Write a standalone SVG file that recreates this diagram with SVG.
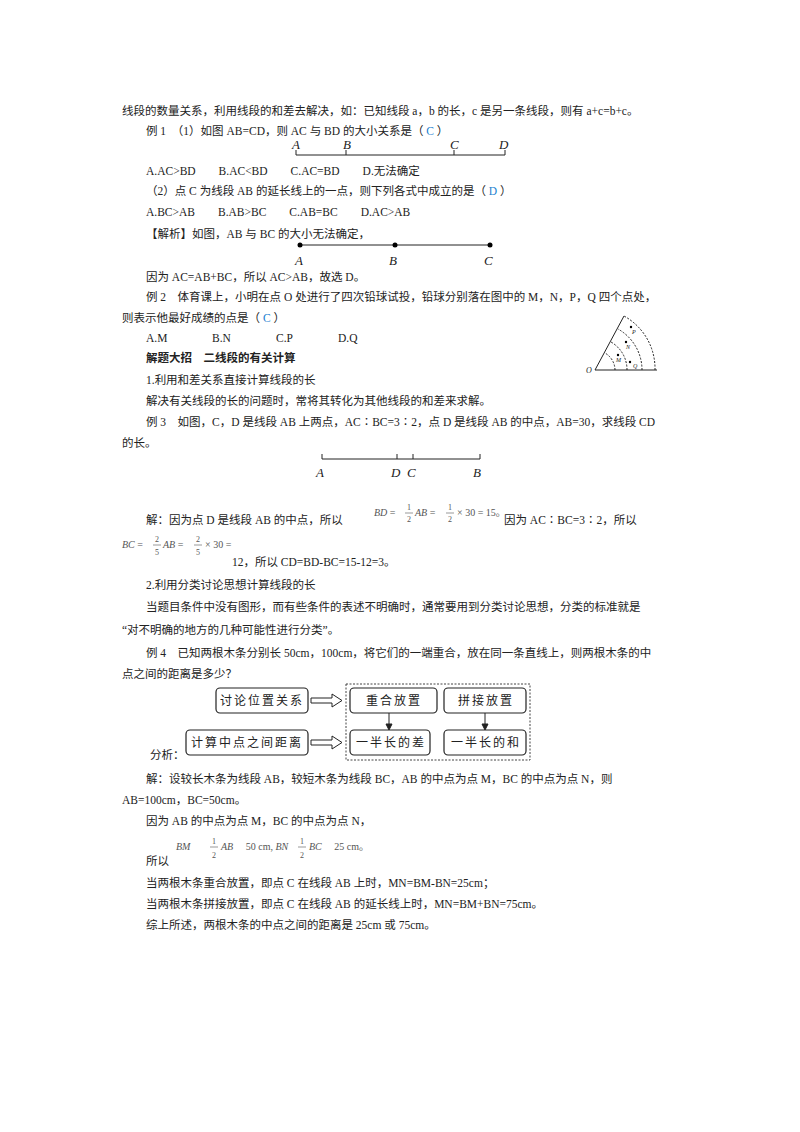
<svg xmlns="http://www.w3.org/2000/svg" width="800" height="1132" viewBox="0 0 800 1132">
<style>
text{font-family:"Liberation Serif","Noto Sans CJK SC",serif;font-size:11.5px;fill:#222}
.i{font-style:italic;font-size:13px}
.f{font-size:10px;fill:#555}
.s{font-size:8px;fill:#555}
.b{font-weight:bold}
.bl{fill:#1a7fd0}
.ln{stroke:#222;stroke-width:1;fill:none}
.bx{fill:#fff;stroke:#222;stroke-width:1.2}
.fc{font-size:12px;text-anchor:middle;letter-spacing:2px}
</style>
<rect width="800" height="1132" fill="#fff"/>
<text x="122" y="115">线段的数量关系，利用线段的和差去解决，如：已知线段 a，b 的长，c 是另一条线段，则有 a+c=b+c。</text>
<text x="146" y="135">例 1　（1）如图 AB=CD，则 AC 与 BD 的大小关系是（ <tspan class="bl">C</tspan> ）</text>
<g id="fig1">
<path class="ln" d="M296 150v5h209v-5M346 150v5M454 150v5"/>
<text class="i" x="292" y="149">A</text><text class="i" x="343" y="149">B</text><text class="i" x="450" y="149">C</text><text class="i" x="499" y="149">D</text>
</g>
<text x="146" y="175">A.AC&gt;BD　　B.AC&lt;BD　　C.AC=BD　　D.无法确定</text>
<text x="146" y="195">（2）点 C 为线段 AB 的延长线上的一点，则下列各式中成立的是（ <tspan class="bl">D</tspan> ）</text>
<text x="146" y="216">A.BC&gt;AB　　B.AB&gt;BC　　C.AB=BC　　D.AC&gt;AB</text>
<text x="146" y="238">【解析】如图，AB 与 BC 的大小无法确定，</text>
<g id="fig2">
<line class="ln" x1="300" y1="245" x2="490" y2="245" stroke-width="1.5"/>
<circle cx="300" cy="245" r="2.5"/><circle cx="395" cy="245" r="2.5"/><circle cx="490" cy="245" r="2.5"/>
<text class="i" x="295" y="265" font-size="14">A</text><text class="i" x="389" y="265" font-size="14">B</text><text class="i" x="484" y="265" font-size="14">C</text>
</g>
<text x="146" y="281">因为 AC=AB+BC，所以 AC&gt;AB，故选 D。</text>
<text x="146" y="301">例 2　体育课上，小明在点 O 处进行了四次铅球试投，铅球分别落在图中的 M，N，P，Q 四个点处，</text>
<text x="122" y="322">则表示他最好成绩的点是（ <tspan class="bl">C</tspan> ）</text>
<text x="146" y="342">A.M</text><text x="212" y="342">B.N</text><text x="276" y="342">C.P</text><text x="338" y="342">D.Q</text>
<g id="fan">
<path class="ln" d="M595 370L624 316M595 370H657" stroke-width="0.8"/>
<path class="ln" stroke-dasharray="2 1.5" stroke-width="0.7" d="M615 370A20 20 0 0 0 605 353M627 370A32 32 0 0 0 611 342M642 370A47 47 0 0 0 618 329M655 370A60 60 0 0 0 624 316"/>
<circle cx="618" cy="355" r="1.2"/><circle cx="626" cy="342" r="1.2"/><circle cx="631" cy="327" r="1.2"/><circle cx="630" cy="362" r="1.2"/>
<text style="font-style:italic;font-size:6px" x="616" y="362">M</text><text style="font-style:italic;font-size:6px" x="626" y="349">N</text><text style="font-style:italic;font-size:6px" x="632" y="334">P</text><text style="font-style:italic;font-size:6px" x="633" y="368">Q</text>
<text style="font-style:italic;font-size:8px" x="586" y="373">O</text>
</g>
<text class="b" x="146" y="362">解题大招　二线段的有关计算</text>
<text x="146" y="384">1.利用和差关系直接计算线段的长</text>
<text x="146" y="405">解决有关线段的长的问题时，常将其转化为其他线段的和差来求解。</text>
<text x="146" y="426">例 3　如图，C，D 是线段 AB 上两点，AC∶BC=3∶2，点 D 是线段 AB 的中点，AB=30，求线段 CD</text>
<text x="122" y="447">的长。</text>
<g id="fig3">
<path class="ln" d="M322 454v5h158v-5M397 454v5M413 454v5"/>
<text class="i" x="316" y="477" font-size="14">A</text><text class="i" x="391" y="477" font-size="14">D</text><text class="i" x="407" y="477" font-size="14">C</text><text class="i" x="473" y="477" font-size="14">B</text>
</g>
<text x="146" y="524">解：因为点 D 是线段 AB 的中点，所以</text>
<text class="f" x="374" y="516"><tspan font-style="italic">BD</tspan> =</text><text class="s" x="407" y="510">1</text><line x1="405" y1="513" x2="413" y2="513" stroke="#555" stroke-width="0.6"/><text class="s" x="407" y="522">2</text>
<text class="f" x="415" y="516"><tspan font-style="italic">AB</tspan> =</text><text class="s" x="448" y="510">1</text><line x1="446" y1="513" x2="454" y2="513" stroke="#555" stroke-width="0.6"/><text class="s" x="448" y="522">2</text>
<text class="f" x="457" y="516">× 30 = 15。</text>
<text x="504" y="524">因为 AC∶BC=3∶2，所以</text>
<text class="f" x="122" y="548"><tspan font-style="italic">BC</tspan> =</text><text class="s" x="155" y="542">2</text><line x1="153" y1="545" x2="161" y2="545" stroke="#555" stroke-width="0.6"/><text class="s" x="155" y="555">5</text>
<text class="f" x="163" y="548"><tspan font-style="italic">AB</tspan> =</text><text class="s" x="196" y="542">2</text><line x1="194" y1="545" x2="202" y2="545" stroke="#555" stroke-width="0.6"/><text class="s" x="196" y="555">5</text>
<text class="f" x="205" y="548">× 30 =</text>
<text x="232" y="566">12，所以 CD=BD-BC=15-12=3。</text>
<text x="146" y="589">2.利用分类讨论思想计算线段的长</text>
<text x="146" y="611">当题目条件中没有图形，而有些条件的表述不明确时，通常要用到分类讨论思想，分类的标准就是</text>
<text x="122" y="634">“对不明确的地方的几种可能性进行分类”。</text>
<text x="146" y="657">例 4　已知两根木条分别长 50cm，100cm，将它们的一端重合，放在同一条直线上，则两根木条的中</text>
<text x="122" y="678">点之间的距离是多少？</text>
<g id="flow">
<rect x="346" y="684" width="184" height="76" fill="none" stroke="#444" stroke-dasharray="2 1.5"/>
<g id="n1"><rect class="bx" x="216" y="688" width="92" height="25" rx="4"/><text class="fc" x="262" y="705">讨论位置关系</text></g>
<g id="n2"><rect class="bx" x="186" y="730" width="122" height="25" rx="4"/><text class="fc" x="247" y="747">计算中点之间距离</text></g>
<g id="n3"><rect class="bx" x="350" y="688" width="87" height="25" rx="4"/><text class="fc" x="394" y="705">重合放置</text></g>
<g id="n4"><rect class="bx" x="444" y="688" width="82" height="25" rx="4"/><text class="fc" x="486" y="705">拼接放置</text></g>
<g id="n5"><rect class="bx" x="350" y="730" width="80" height="25" rx="4"/><text class="fc" x="391" y="747">一半长的差</text></g>
<g id="n6"><rect class="bx" x="444" y="730" width="82" height="25" rx="4"/><text class="fc" x="486" y="747">一半长的和</text></g>
<g id="connectors" fill="none" stroke="#222" stroke-width="1">
<path d="M311 698h21v-4l10 6.5-10 6.5v-4h-21z"/>
<path d="M311 740h21v-4l10 6.5-10 6.5v-4h-21z"/>
<path d="M389 713v13M485 713v13"/>
<path d="M386 724l3 6 3-6zM482 724l3 6 3-6z" fill="#222"/>
</g>
</g>
<text x="150" y="759">分析：</text>
<text x="146" y="783">解：设较长木条为线段 AB，较短木条为线段 BC，AB 的中点为点 M，BC 的中点为点 N，则</text>
<text x="122" y="804">AB=100cm，BC=50cm。</text>
<text x="146" y="825">因为 AB 的中点为点 M，BC 的中点为点 N，</text>
<text class="f" x="176" y="850" font-style="italic">BM</text><text class="s" x="212" y="844">1</text><line x1="210" y1="847" x2="218" y2="847" stroke="#555" stroke-width="0.6"/><text class="s" x="212" y="858">2</text>
<text class="f" x="221" y="850"><tspan font-style="italic">AB</tspan>　 50 cm, <tspan font-style="italic">BN</tspan></text><text class="s" x="300" y="844">1</text><line x1="298" y1="847" x2="306" y2="847" stroke="#555" stroke-width="0.6"/><text class="s" x="300" y="858">2</text>
<text class="f" x="309" y="850"><tspan font-style="italic">BC</tspan>　 25 cm。</text>
<text x="146" y="865">所以</text>
<text x="146" y="887">当两根木条重合放置，即点 C 在线段 AB 上时，MN=BM-BN=25cm；</text>
<text x="146" y="908">当两根木条拼接放置，即点 C 在线段 AB 的延长线上时，MN=BM+BN=75cm。</text>
<text x="146" y="929">综上所述，两根木条的中点之间的距离是 25cm 或 75cm。</text>
</svg>
